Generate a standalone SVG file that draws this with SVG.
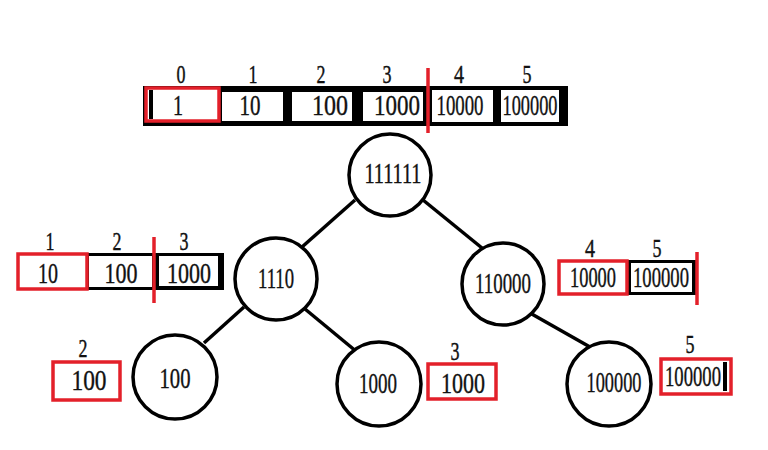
<svg xmlns="http://www.w3.org/2000/svg" width="768" height="450" viewBox="0 0 768 450">
<style>
text{font-family:"Liberation Serif","Times New Roman",serif;fill:#111;stroke:#111;stroke-width:0.4;text-anchor:middle}
.v{font-size:29px}
.i{font-size:25px}
.n{fill:#fff;stroke:#000;stroke-width:3.5}
.e{stroke:#000;stroke-width:3.5}
.blk{fill:#000}
.wh{fill:#fff}
.red{fill:#fff;stroke:#e3202a;stroke-width:3.5}
.rl{stroke:#e3202a;stroke-width:3.5}
</style>
<rect width="768" height="450" fill="#fff"/>

<g id="top-array">
  <rect class="blk" x="143" y="86" width="425" height="40"/>
  <rect class="red" x="146" y="88" width="73" height="33"/>
  <rect class="blk" x="149" y="90" width="4" height="29"/>
  <rect class="wh" x="222" y="92" width="61" height="29"/>
  <rect class="wh" x="292" y="92" width="60" height="29"/>
  <rect class="wh" x="363" y="92" width="60" height="29"/>
  <rect class="wh" x="432" y="90" width="61" height="32"/>
  <rect class="wh" x="501" y="90" width="58" height="32"/>
  <text class="i" x="181" y="83" textLength="9" lengthAdjust="spacingAndGlyphs">0</text>
  <text class="i" x="253" y="83" textLength="9" lengthAdjust="spacingAndGlyphs">1</text>
  <text class="i" x="321" y="83" textLength="9" lengthAdjust="spacingAndGlyphs">2</text>
  <text class="i" x="387" y="83" textLength="9" lengthAdjust="spacingAndGlyphs">3</text>
  <text class="i" x="459" y="83" textLength="10" lengthAdjust="spacingAndGlyphs">4</text>
  <text class="i" x="527" y="83" textLength="9" lengthAdjust="spacingAndGlyphs">5</text>
  <text class="v" x="178" y="115" textLength="10" lengthAdjust="spacingAndGlyphs">1</text>
  <text class="v" x="250" y="115" textLength="21" lengthAdjust="spacingAndGlyphs">10</text>
  <text class="v" x="330" y="115" textLength="36" lengthAdjust="spacingAndGlyphs">100</text>
  <text class="v" x="397" y="115" textLength="46" lengthAdjust="spacingAndGlyphs">1000</text>
  <text class="v" x="460" y="115" textLength="47" lengthAdjust="spacingAndGlyphs">10000</text>
  <text class="v" x="530" y="115" textLength="55" lengthAdjust="spacingAndGlyphs">100000</text>
  <line class="rl" x1="428" y1="68" x2="428" y2="133"/>
</g>

<g id="left-array">
  <rect class="blk" x="86" y="253" width="138" height="37"/>
  <rect class="wh" x="89" y="256" width="63" height="31"/>
  <rect class="wh" x="159" y="256" width="59" height="30"/>
  <rect class="red" x="18" y="254" width="69" height="35"/>
  <text class="i" x="50" y="250" textLength="9" lengthAdjust="spacingAndGlyphs">1</text>
  <text class="i" x="117" y="250" textLength="9" lengthAdjust="spacingAndGlyphs">2</text>
  <text class="i" x="184" y="250" textLength="9" lengthAdjust="spacingAndGlyphs">3</text>
  <text class="v" x="48" y="283" textLength="20" lengthAdjust="spacingAndGlyphs">10</text>
  <text class="v" x="121" y="283" textLength="33" lengthAdjust="spacingAndGlyphs">100</text>
  <text class="v" x="189" y="283" textLength="44" lengthAdjust="spacingAndGlyphs">1000</text>
  <line class="rl" x1="154" y1="237" x2="154" y2="303"/>
</g>

<g id="right-array">
  <rect class="blk" x="627" y="260" width="70" height="35"/>
  <rect class="wh" x="631" y="263" width="61" height="29"/>
  <rect class="red" x="559" y="261" width="68" height="33"/>
  <text class="i" x="590" y="257" textLength="10" lengthAdjust="spacingAndGlyphs">4</text>
  <text class="i" x="657" y="257" textLength="9" lengthAdjust="spacingAndGlyphs">5</text>
  <text class="v" x="593" y="287" textLength="46" lengthAdjust="spacingAndGlyphs">10000</text>
  <text class="v" x="661" y="287" textLength="56" lengthAdjust="spacingAndGlyphs">100000</text>
  <line class="rl" x1="697" y1="252" x2="697" y2="305"/>
</g>

<g id="box-100">
  <rect class="red" x="53" y="362" width="67" height="38"/>
  <text class="i" x="83" y="357" textLength="9" lengthAdjust="spacingAndGlyphs">2</text>
  <text class="v" x="89" y="390" textLength="35" lengthAdjust="spacingAndGlyphs">100</text>
</g>

<g id="box-1000">
  <rect class="red" x="428" y="364" width="68" height="35"/>
  <text class="i" x="455" y="360" textLength="9" lengthAdjust="spacingAndGlyphs">3</text>
  <text class="v" x="463" y="393" textLength="44" lengthAdjust="spacingAndGlyphs">1000</text>
</g>

<g id="box-100000">
  <rect class="red" x="661" y="359" width="70" height="35"/>
  <rect class="blk" x="723" y="362" width="4" height="29"/>
  <text class="i" x="690" y="353" textLength="9" lengthAdjust="spacingAndGlyphs">5</text>
  <text class="v" x="693" y="386" textLength="56" lengthAdjust="spacingAndGlyphs">100000</text>
</g>

<g id="connectors">
  <line class="e" x1="355" y1="200" x2="302" y2="247"/>
  <line class="e" x1="423" y1="200" x2="482" y2="248"/>
  <line class="e" x1="244" y1="307" x2="204" y2="343"/>
  <line class="e" x1="305" y1="309" x2="357" y2="352"/>
  <line class="e" x1="530" y1="313" x2="590" y2="347"/>
</g>

<g id="node-111111">
  <circle class="n" cx="390" cy="175" r="41"/>
  <text class="v" x="393" y="183" textLength="57" lengthAdjust="spacingAndGlyphs">111111</text>
</g>
<g id="node-1110">
  <circle class="n" cx="276" cy="279" r="41"/>
  <text class="v" x="276" y="288" textLength="36" lengthAdjust="spacingAndGlyphs">1110</text>
</g>
<g id="node-110000">
  <circle class="n" cx="503" cy="284" r="41"/>
  <text class="v" x="503" y="293" textLength="56" lengthAdjust="spacingAndGlyphs">110000</text>
</g>
<g id="node-100">
  <circle class="n" cx="175" cy="377" r="42"/>
  <text class="v" x="175" y="388" textLength="31" lengthAdjust="spacingAndGlyphs">100</text>
</g>
<g id="node-1000">
  <circle class="n" cx="379" cy="384" r="42"/>
  <text class="v" x="378" y="393" textLength="38" lengthAdjust="spacingAndGlyphs">1000</text>
</g>
<g id="node-100000">
  <circle class="n" cx="609" cy="384" r="42"/>
  <text class="v" x="614" y="392" textLength="55" lengthAdjust="spacingAndGlyphs">100000</text>
</g>
</svg>
